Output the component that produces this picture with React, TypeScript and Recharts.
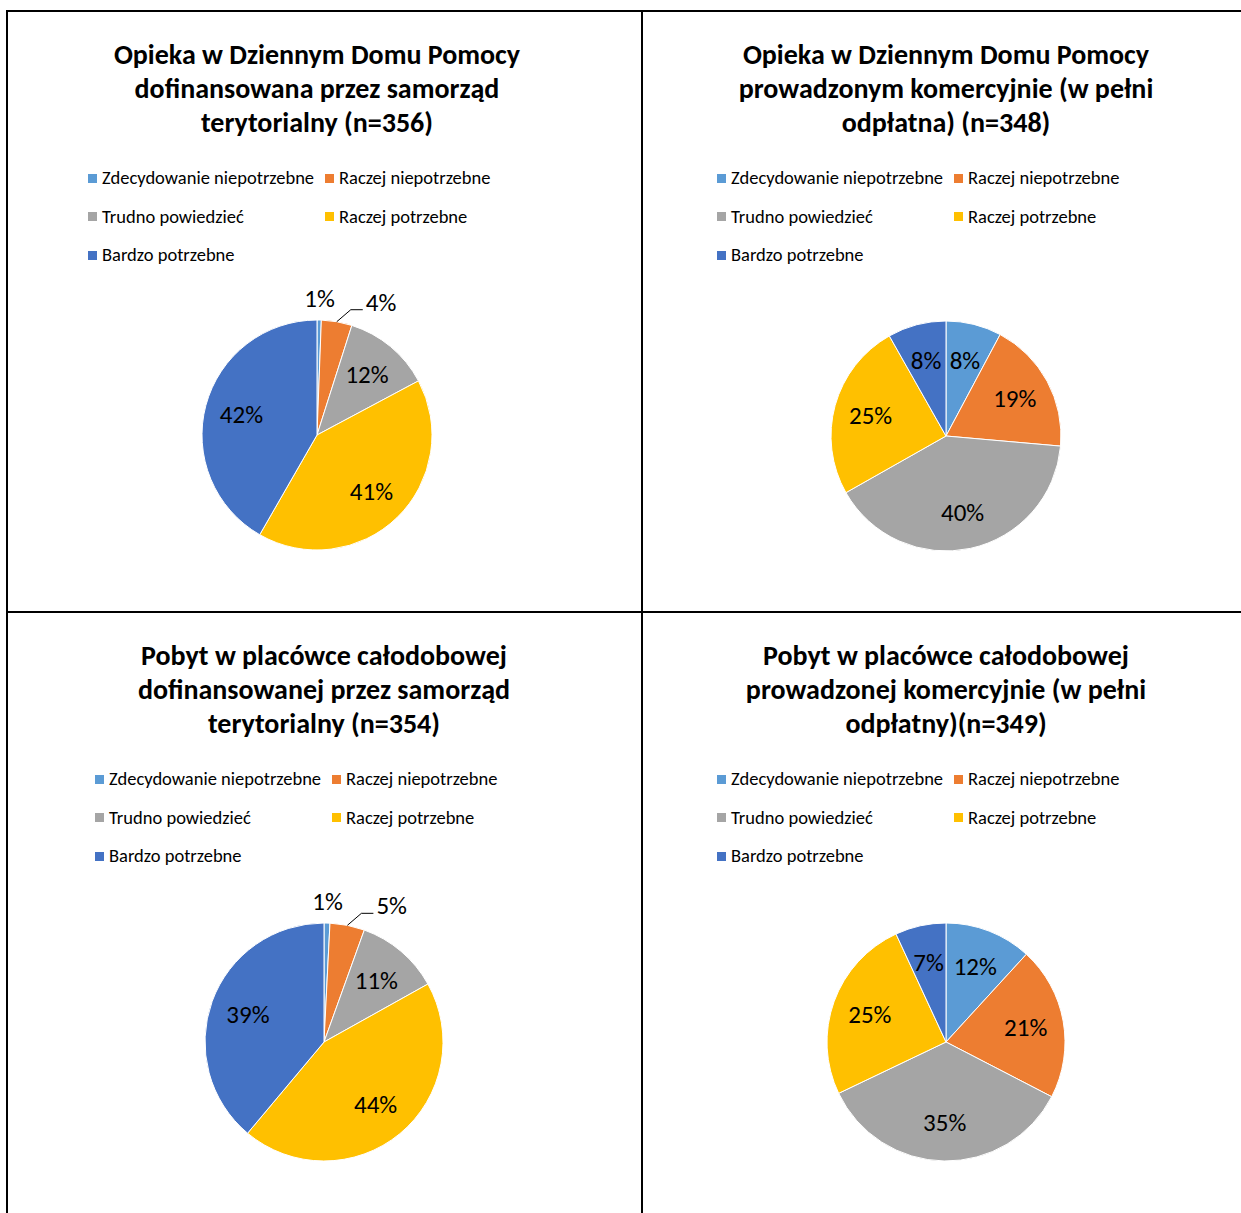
import React from "react";
import { Legend, Pie, PieChart, Cell } from "recharts";

const CATEGORIES = [
  "Zdecydowanie niepotrzebne",
  "Raczej niepotrzebne",
  "Trudno powiedzieć",
  "Raczej potrzebne",
  "Bardzo potrzebne",
];
const COLORS = ["#5B9BD5", "#ED7D31", "#A5A5A5", "#FFC000", "#4472C4"];

const dziennyDotowany = [0.6, 4.3, 12.3, 41.1, 41.7];
const dziennyKomercyjny = [7.8, 18.6, 40.4, 25.0, 8.2];
const calodobowyDotowany = [0.8, 4.7, 11.4, 44.2, 38.9];
const calodobowyKomercyjny = [11.8, 20.8, 35.3, 25.2, 6.9];

const TITLES = [
  ["Opieka w Dziennym Domu Pomocy", "dofinansowana przez samorząd", "terytorialny (n=356)"],
  ["Opieka w Dziennym Domu Pomocy", "prowadzonym komercyjnie (w pełni", "odpłatna) (n=348)"],
  ["Pobyt w placówce całodobowej", "dofinansowanej przez samorząd", "terytorialny (n=354)"],
  ["Pobyt w placówce całodobowej", "prowadzonej komercyjnie (w pełni", "odpłatny)(n=349)"],
];

const FONT = "Carlito, Calibri, Lato, sans-serif";
const RAD = Math.PI / 180;

function makeLabel(values: number[]) {
  const total = values.reduce((a, b) => a + b, 0);
  return (props: any) => {
    const { cx, cy, midAngle, outerRadius, percent, index } = props;
    const pct = `${Math.round(percent * 100)}%`;
    const cos = Math.cos(-midAngle * RAD);
    const sin = Math.sin(-midAngle * RAD);
    const small = percent < 0.06;
    const prevSmall = index > 0 && values[index - 1] / total < 0.06;
    if (small && prevSmall) {
      // label pushed aside with a leader line, like Excel does
      const sx = cx + outerRadius * cos;
      const sy = cy + outerRadius * sin;
      const ex = sx + 14;
      const ey = sy - 12;
      return (
        <g key={`l${index}`}>
          <polyline points={`${sx},${sy} ${ex},${ey} ${ex + 12},${ey}`} fill="none" stroke="#000" strokeWidth={1} />
          <text x={ex + 15} y={ey + 1} fontSize={25} fontFamily={FONT} fill="#000" textAnchor="start">
            {pct}
          </text>
        </g>
      );
    }
    const r = small ? outerRadius + 22 : outerRadius * 0.68;
    return (
      <text
        key={`l${index}`}
        x={cx + r * cos}
        y={cy + r * sin}
        fontSize={25}
        fontFamily={FONT}
        fill="#000"
        textAnchor="middle"
        dominantBaseline="central"
      >
        {pct}
      </text>
    );
  };
}

function LegendGrid({ payload }: any) {
  const items = [...(payload || [])].sort(
    (a: any, b: any) => CATEGORIES.indexOf(a.value) - CATEGORIES.indexOf(b.value)
  );
  return (
    <div style={{ position: "relative", width: 480, height: 100, fontFamily: FONT, fontSize: 18.5 }}>
      {items.map((p: any, i: number) => (
        <div
          key={i}
          style={{
            position: "absolute",
            left: (i % 2) * 237,
            top: Math.floor(i / 2) * 38.5,
            height: 24,
            lineHeight: "24px",
            display: "flex",
            alignItems: "center",
            whiteSpace: "nowrap",
            color: "#000",
          }}
        >
          <span style={{ width: 9, height: 9, background: p.color, marginRight: 5, display: "inline-block" }} />
          {p.value}
        </div>
      ))}
    </div>
  );
}

function Panel({
  values,
  title,
  centerX,
  top,
  cy,
  radius,
}: {
  values: number[];
  title: string[];
  centerX: number;
  top: number;
  cy: number;
  radius: number;
}) {
  const data = CATEGORIES.map((name, i) => ({ name, value: values[i] }));
  const w = 600;
  return (
    <div style={{ position: "absolute", left: centerX - w / 2, top, width: w, height: 598 }}>
      <div
        style={{
          position: "absolute",
          top: 26,
          left: 0,
          width: w,
          textAlign: "center",
          fontFamily: FONT,
          fontWeight: 700,
          fontSize: 28,
          lineHeight: "34px",
          color: "#000",
        }}
      >
        {title.map((t, i) => (
          <div key={i}>{t}</div>
        ))}
      </div>
      <PieChart width={w} height={598} margin={{ top: 0, right: 0, bottom: 0, left: 0 }}>
        <Legend
          layout="horizontal"
          verticalAlign="middle"
          content={<LegendGrid />}
          wrapperStyle={{ top: 154, left: w / 2 - 229, width: 480 }}
        />
        <Pie
          data={data}
          dataKey="value"
          nameKey="name"
          cx={w / 2}
          cy={cy}
          outerRadius={radius}
          startAngle={90}
          endAngle={-270}
          stroke="#fff"
          strokeWidth={1}
          label={makeLabel(values)}
          labelLine={false}
          isAnimationActive={false}
        >
          {data.map((d, i) => (
            <Cell key={d.name} fill={COLORS[i]} />
          ))}
        </Pie>
      </PieChart>
    </div>
  );
}

export default function App() {
  return (
    <div
      style={{
        position: "fixed",
        left: 0,
        top: 0,
        width: 1241,
        height: 1213,
        overflow: "hidden",
        background: "#fff",
      }}
    >
      <div style={{ position: "absolute", left: 6, top: 10, width: 1235, height: 2, background: "#000" }} />
      <div style={{ position: "absolute", left: 6, top: 10, width: 2, height: 1203, background: "#000" }} />
      <div style={{ position: "absolute", left: 641, top: 10, width: 2, height: 1203, background: "#000" }} />
      <div style={{ position: "absolute", left: 6, top: 611, width: 1235, height: 2, background: "#000" }} />
      <Panel values={dziennyDotowany} title={TITLES[0]} centerX={317} top={12} cy={423} radius={115} />
      <Panel values={dziennyKomercyjny} title={TITLES[1]} centerX={946} top={12} cy={424} radius={115} />
      <Panel values={calodobowyDotowany} title={TITLES[2]} centerX={324} top={613} cy={429} radius={119} />
      <Panel values={calodobowyKomercyjny} title={TITLES[3]} centerX={946} top={613} cy={429} radius={119} />
    </div>
  );
}
